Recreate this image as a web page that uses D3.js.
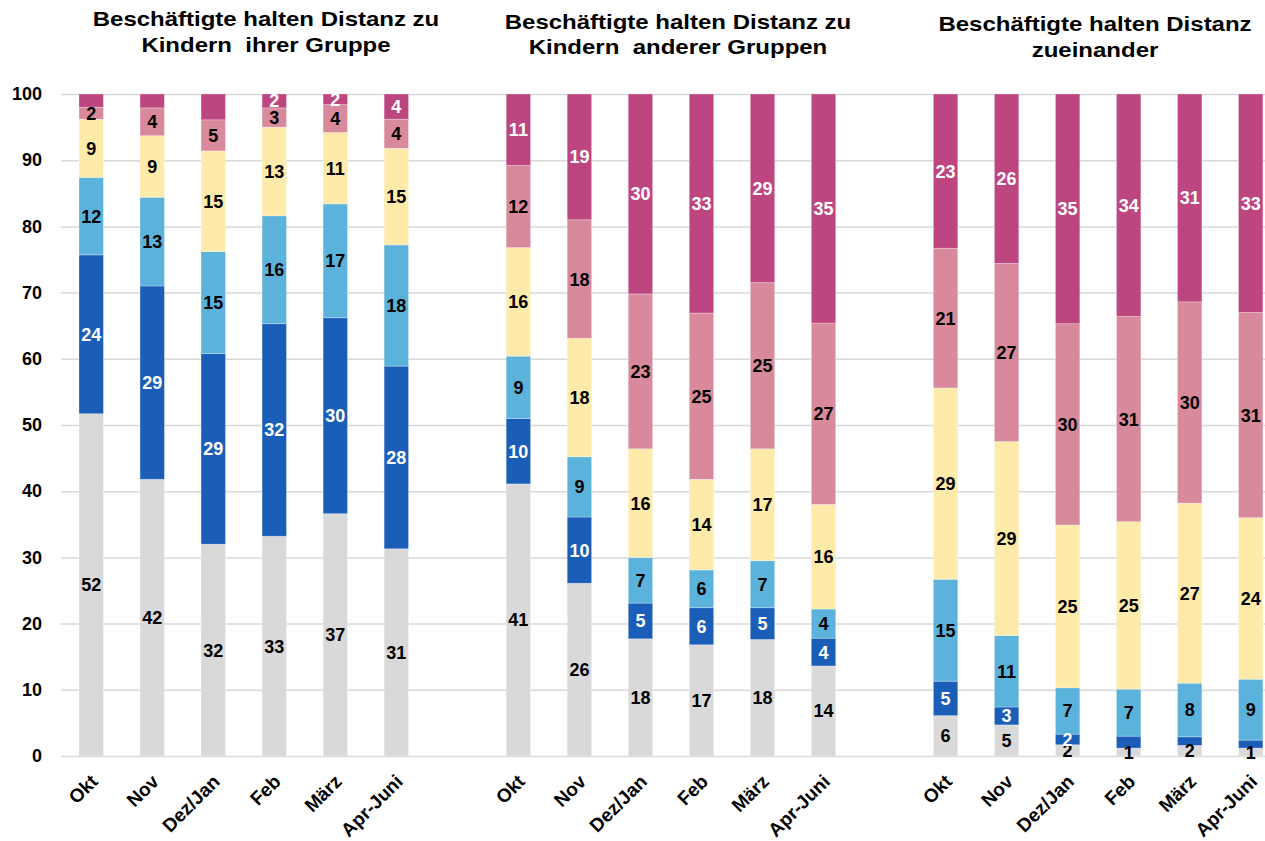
<!DOCTYPE html>
<html>
<head>
<meta charset="utf-8">
<script src="https://cdn.jsdelivr.net/npm/d3@7/dist/d3.min.js"></script>
<style>
  html, body { margin: 0; padding: 0; background: #fff; }
  svg { display: block; font-family: "Liberation Sans", Arial, sans-serif; }
</style>
</head>
<body>
<svg id="chart" width="1265" height="841"></svg>
<script>
// ---------- DATA ----------
const categories = ["Okt", "Nov", "Dez/Jan", "Feb", "März", "Apr-Juni"];
const panelTitles = [
  ["Beschäftigte halten Distanz zu", "Kindern  ihrer Gruppe"],
  ["Beschäftigte halten Distanz zu", "Kindern  anderer Gruppen"],
  ["Beschäftigte halten Distanz", "zueinander"]
];
const seriesNames = ["Kategorie 1", "Kategorie 2", "Kategorie 3", "Kategorie 4", "Kategorie 5", "Kategorie 6"];
const seriesColors = ["#d9d9d9", "#1b5eb8", "#5bb3dc", "#feeaa9", "#d88a9c", "#bd4680"];
const labelColors = ["#000", "#fff", "#000", "#000", "#000", "#fff"];
// values per series: panel 1 (6 months), panel 2 (6 months), panel 3 (6 months)
const grau      = [51.7, 41.8, 32.0, 33.2, 36.6, 31.3,   41.1, 26.1, 17.7, 16.8, 17.6, 13.6,   6.1, 4.7, 1.7, 1.2, 1.6, 1.2];
const dunkelblau= [24.0, 29.2, 28.8, 32.1, 29.6, 27.6,    9.9, 10.0,  5.4,  5.6,  4.8,  4.2,   5.2, 2.7, 1.6, 1.8, 1.3, 1.2];
const hellblau  = [11.7, 13.4, 15.4, 16.3, 17.2, 18.3,    9.4,  9.1,  6.9,  5.7,  7.1,  4.4,  15.4, 10.8, 7.0, 7.1, 8.1, 9.2];
const gelb      = [ 8.8,  9.3, 15.2, 13.4, 10.8, 14.6,   16.4, 17.9, 16.4, 13.7, 16.9, 15.8,  28.9, 29.3, 24.6, 25.3, 27.2, 24.4];
const rosa      = [ 1.8,  4.2,  4.7,  2.9,  4.2,  4.4,   12.4, 17.9, 23.4, 25.1, 25.1, 27.4,  21.1, 26.9, 30.4, 31.0, 30.4, 31.0];
const magenta   = [ 2.0,  2.1,  3.9,  2.1,  1.6,  3.8,   10.8, 19.0, 30.2, 33.1, 28.5, 34.6,  23.3, 25.6, 34.7, 33.6, 31.4, 33.0];
const seriesValues = [grau, dunkelblau, hellblau, gelb, rosa, magenta];
// labels not shown in the original: "panel|series|month"
const hiddenLabels = ["0|5|0", "0|5|1", "0|5|2", "2|1|3", "2|1|4", "2|1|5"];
const yTicks = [0, 10, 20, 30, 40, 50, 60, 70, 80, 90, 100];

// ---------- BUILD ----------
const slots = [];
panelTitles.forEach((t, p) => {
  categories.forEach((c, m) => slots.push({ key: p + "|" + c, panel: p, month: m, label: c }));
  if (p < panelTitles.length - 1) slots.push({ key: "gap" + p, gap: true });
});
const bars = slots.filter(s => !s.gap);

const svg = d3.select("#chart");
const x = d3.scalePoint().domain(slots.map(s => s.key)).range([91.2, 1250.7]);
const y = d3.scaleLinear().domain([0, 100]).range([756, 94]);
const barW = 24.4;

// grid + y axis
const yAxis = d3.axisLeft(y).tickValues(yTicks).tickSize(-(1265 - 61)).tickPadding(19);
const gy = svg.append("g").attr("transform", "translate(61,0)").call(yAxis);
gy.select(".domain").remove();
gy.selectAll(".tick line").attr("stroke", "#d9d9d9").attr("stroke-width", 1.5);
gy.selectAll(".tick text").attr("font-size", 18).attr("font-weight", "bold").attr("fill", "#000");

// stacked data
const rows = bars.map(b => {
  const r = { key: b.key, panel: b.panel, month: b.month };
  const idx = b.panel * categories.length + b.month;
  seriesValues.forEach((arr, s) => r["s" + s] = arr[idx]);
  return r;
});
const stack = d3.stack().keys(seriesValues.map((_, s) => "s" + s));
const stacked = stack(rows);

const layers = svg.append("g").selectAll("g").data(stacked).join("g")
  .attr("fill", (d, i) => seriesColors[i]);
layers.selectAll("rect").data(d => d).join("rect")
  .attr("x", d => x(d.data.key) - barW / 2)
  .attr("width", barW)
  .attr("y", d => y(d[1]))
  .attr("height", d => y(d[0]) - y(d[1]))
  .attr("stroke", "#ffffff")
  .attr("stroke-opacity", 0.35)
  .attr("stroke-width", 0.8);

// value labels
stacked.forEach((layer, s) => {
  svg.append("g").selectAll("text")
    .data(layer.filter(d => !hiddenLabels.includes(d.data.panel + "|" + s + "|" + d.data.month)))
    .join("text")
    .attr("x", d => x(d.data.key))
    .attr("y", d => (y(d[0]) + y(d[1])) / 2)
    .attr("dy", "0.36em")
    .attr("text-anchor", "middle")
    .attr("font-size", 18)
    .attr("font-weight", "bold")
    .attr("fill", labelColors[s])
    .text(d => Math.round(d[1] - d[0] + 1e-9));
});

// x labels
svg.append("g").selectAll("text").data(bars).join("text")
  .attr("transform", d => `translate(${x(d.key) + 3},${778}) rotate(-45)`)
  .attr("text-anchor", "end")
  .attr("dy", "0.35em")
  .attr("font-size", 19)
  .attr("font-weight", "bold")
  .attr("fill", "#000")
  .text(d => d.label);

// titles (slightly widened lettering as in the original)
const titleX = [266, 678, 1095];
const titleY = [26, 28.5, 30.7];
panelTitles.forEach((lines, p) => {
  const t = svg.append("text")
    .attr("transform", `translate(${titleX[p]},${titleY[p]}) scale(1.2,1)`)
    .attr("text-anchor", "middle")
    .attr("font-size", 20)
    .attr("font-weight", "bold")
    .attr("fill", "#000");
  lines.forEach((ln, i) => {
    t.append("tspan").attr("x", 0).attr("y", i * 26).attr("xml:space", "preserve").text(ln);
  });
});
</script>
</body>
</html>
